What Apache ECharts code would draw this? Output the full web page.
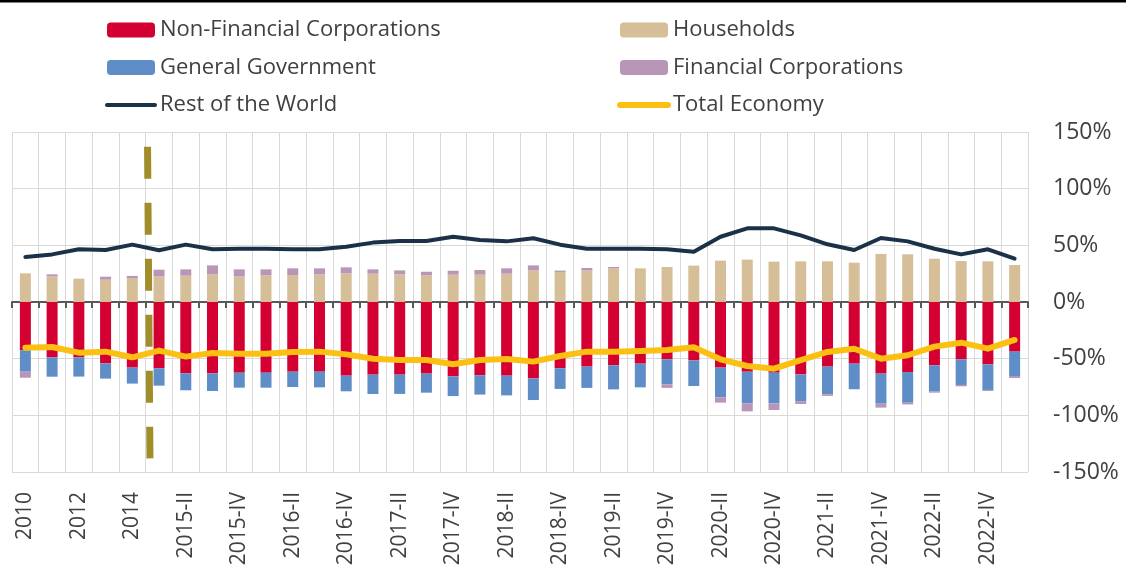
<!DOCTYPE html>
<html>
<head>
<meta charset="utf-8">
<script src="https://cdn.jsdelivr.net/npm/echarts@6/dist/echarts.min.js"></script>
<style>
  html, body { margin: 0; padding: 0; background: #fff; }
  #chart { width: 1126px; height: 575px; }
</style>
</head>
<body>
<div id="chart"></div>
<script>
// categorias (anuais até 2014, depois trimestrais)
const categories = ['2010','2011','2012','2013','2014',
  '2015-I','2015-II','2015-III','2015-IV','2016-I','2016-II','2016-III','2016-IV',
  '2017-I','2017-II','2017-III','2017-IV','2018-I','2018-II','2018-III','2018-IV',
  '2019-I','2019-II','2019-III','2019-IV','2020-I','2020-II','2020-III','2020-IV',
  '2021-I','2021-II','2021-III','2021-IV','2022-I','2022-II','2022-III','2022-IV','2023-I'];

const nonFinancial = [-42.6,-48.8,-48.8,-54.1,-57.9,-58.5,-62.9,-62.9,-62.4,-62.4,
  -61.5,-61.5,-65,-64.1,-64.1,-63.2,-65.6,-64.7,-65,-67.4,
  -58.5,-57,-55.9,-54.4,-50.6,-51.5,-57.9,-61.5,-62.4,-63.8,
  -57,-54.4,-63.2,-61.8,-55.9,-50.6,-55,-43.8];
const households = [25.3,22.6,20.6,19.7,21.2,22.6,23.2,24.4,22.6,23.5,
  23.8,24.4,25.3,25,24.4,23.5,24.1,24.1,25,27.9,
  26.5,27.9,29.7,29.7,30.9,32.1,36.5,37.4,35.6,35.9,
  35.9,34.7,42.4,42.1,38.2,36.2,35.9,32.6];
const generalGov = [-18.9,-17.1,-17,-13.5,-14.1,-15.3,-15,-15.6,-13.2,-13.2,
  -13.5,-13.8,-13.8,-17.1,-17,-16.8,-17.4,-17,-17.4,-19.1,
  -18.2,-18.8,-21.2,-20.9,-22,-22.6,-26.2,-27.9,-27,-24.1,
  -24.4,-22.6,-26.5,-27.1,-23.2,-22.6,-22.6,-21.5];
const financial = [-5.3,1.8,0,2.6,1.8,5.9,5.6,7.9,6.2,5.3,
  5.9,5.3,5.3,3.8,3.5,3.2,3.5,4.1,4.7,4.4,
  1.2,2.1,1.2,0,-3.2,0,-4.7,-7.1,-5.9,-2.1,
  -1.5,0,-3.5,-1.5,-0.9,-1.2,-0.9,-1.8];
const restOfWorld = [39.7,42,46.5,45.9,50.6,45.6,50.6,46.5,47,47,
  46.5,46.5,48.8,52.4,53.8,53.8,57.6,54.7,53.5,56.2,
  50.6,47,47,47,46.5,44.4,57.6,65,65,58.8,
  50.9,45.9,56.5,53.5,47,42,46.5,38.2];
const totalEconomy = [-40.3,-39.7,-44.7,-43.8,-48.8,-42.9,-48.2,-45,-45.6,-45.6,
  -44.1,-43.8,-46.2,-50,-51.2,-51.2,-55,-51.2,-50.3,-52.6,
  -47.6,-43.8,-43.8,-43.2,-42.4,-40,-50.6,-56.5,-58.8,-51.2,
  -44.1,-41.2,-50,-47,-39.4,-35.9,-41.2,-33.5];

// quebra de série entre 2014 e 2015 (posição no eixo, valor em %)
const breakX = [4.57, 4.66];
const breakY = [137, -138];

const yTicks = [-150, 150, 50];

const textColor = '#404040';
const font = 'Open Sans';

const myChart = echarts.init(document.getElementById('chart'));

const legendBase = {
  orient: 'vertical',
  top: 19,
  padding: 0,
  itemWidth: 48,
  itemHeight: 15,
  itemGap: 15.5,
  textStyle: { fontFamily: font, fontSize: 22, color: textColor, lineHeight: 22 }
};

const option = {
  animation: false,
  textStyle: { fontFamily: font },
  graphic: [{
    type: 'rect',
    shape: { x: 0, y: 0, width: 1126, height: 2.5 },
    style: { fill: '#000' }
  }],
  legend: [
    Object.assign({ left: 105, data: [
      'Non-Financial Corporations',
      'General Government',
      { name: 'Rest of the World', lineStyle: { width: 4, cap: 'round' } }
    ] }, legendBase),
    Object.assign({ left: 617, data: [
      'Households',
      'Financial Corporations',
      { name: 'Total Economy', lineStyle: { width: 6, cap: 'round' } }
    ] }, legendBase)
  ],
  grid: { left: 12, right: 98, top: 132, bottom: 103 },
  xAxis: [
    {
      type: 'category',
      data: categories,
      position: 'bottom',
      axisLine: { show: false, onZero: false },
      axisTick: { show: false },
      splitLine: { show: true, interval: 0, lineStyle: { color: '#D9D9D9', width: 1 } },
      axisLabel: { interval: 1, rotate: 90, margin: 20, fontSize: 21, color: textColor, fontFamily: font }
    },
    {
      type: 'category',
      data: categories,
      position: 'top',
      axisLine: { show: true, onZero: true, lineStyle: { color: '#595959', width: 2 } },
      axisTick: { show: true, inside: true, length: 6, interval: 0, lineStyle: { color: '#595959', width: 2 } },
      axisLabel: { show: false },
      splitLine: { show: false }
    },
    {
      type: 'value',
      min: -0.5,
      max: categories.length - 0.5,
      show: false
    }
  ],
  yAxis: {
    type: 'value',
    position: 'right',
    min: yTicks[0],
    max: yTicks[1],
    interval: yTicks[2],
    axisLine: { show: false },
    axisTick: { show: false },
    splitLine: { lineStyle: { color: '#D9D9D9', width: 1 } },
    axisLabel: { formatter: '{value}%', fontSize: 23, color: textColor, margin: 25, fontFamily: font }
  },
  series: [
    {
      name: 'Non-Financial Corporations',
      type: 'bar',
      stack: 'sectors',
      barWidth: 11,
      data: nonFinancial,
      itemStyle: { color: '#D50032' }
    },
    {
      name: 'Households',
      type: 'bar',
      stack: 'sectors',
      barWidth: 11,
      data: households,
      itemStyle: { color: '#D6BE99' }
    },
    {
      name: 'General Government',
      type: 'bar',
      stack: 'sectors',
      barWidth: 11,
      data: generalGov,
      itemStyle: { color: '#5E8DC8' }
    },
    {
      name: 'Financial Corporations',
      type: 'bar',
      stack: 'sectors',
      barWidth: 11,
      data: financial,
      itemStyle: { color: '#B896B8' }
    },
    {
      name: 'Rest of the World',
      type: 'line',
      data: restOfWorld,
      symbol: 'none',
      lineStyle: { color: '#1B3148', width: 4, join: 'round', cap: 'round' },
      itemStyle: { color: '#1B3148', opacity: 0 }
    },
    {
      name: 'Total Economy',
      type: 'line',
      data: totalEconomy,
      symbol: 'none',
      lineStyle: { color: '#FBC012', width: 6, join: 'round', cap: 'round' },
      itemStyle: { color: '#FBC012', opacity: 0 }
    },
    // linha tracejada da quebra de série
    {
      name: 'break',
      type: 'line',
      xAxisIndex: 2,
      data: [[breakX[0], breakY[0]], [breakX[1], breakY[1]]],
      symbol: 'none',
      silent: true,
      z: 1,
      lineStyle: { color: '#A18E2A', width: 7, type: [32, 24], cap: 'butt' }
    }
  ]
};

myChart.setOption(option);
</script>
</body>
</html>
